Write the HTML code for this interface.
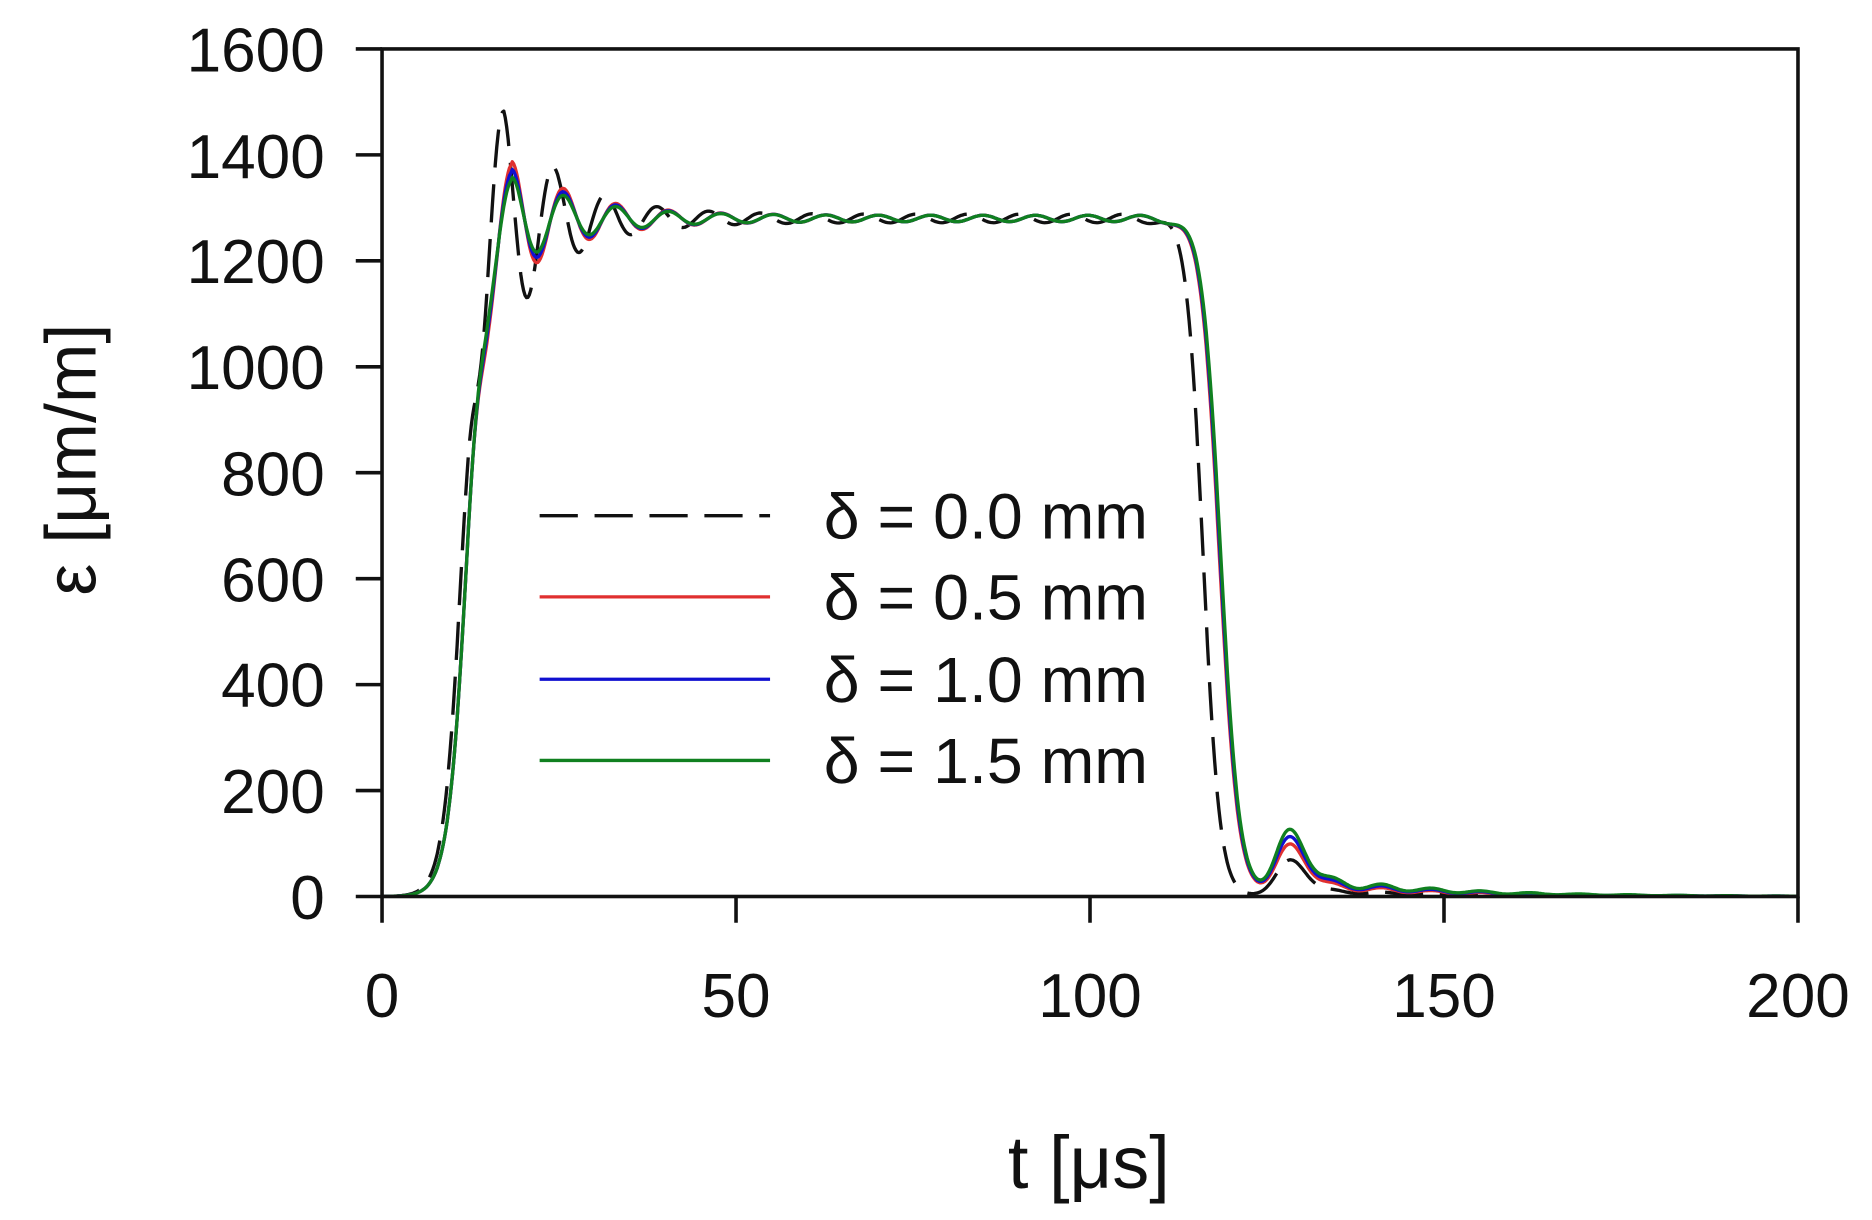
<!DOCTYPE html>
<html><head><meta charset="utf-8"><style>
html,body{margin:0;padding:0;background:#fff;}
svg{display:block;}
text{font-family:"Liberation Sans",Arial,sans-serif;fill:#111;}
</style></head><body>
<svg id="s" width="1872" height="1220" viewBox="0 0 1568 1022" preserveAspectRatio="none">
<rect x="0" y="0" width="1568" height="1022" fill="#fff"/>
<g id="curves" fill="none" stroke-linejoin="round"></g>
<g stroke="#111" stroke-width="3" fill="none">
<rect x="320" y="41" width="1186" height="710"/>
<path d="M298 41H320M298 129.75H320M298 218.5H320M298 307.25H320M298 396H320M298 484.75H320M298 573.5H320M298 662.25H320M298 751H320"/>
<path d="M320 751V773M616.5 751V773M913 751V773M1209.5 751V773M1506 751V773"/>
</g>
<g font-size="52" text-anchor="end">
<text x="272" y="60">1600</text><text x="272" y="149">1400</text><text x="272" y="237">1200</text>
<text x="272" y="326">1000</text><text x="272" y="415">800</text><text x="272" y="504">600</text>
<text x="272" y="592">400</text><text x="272" y="681">200</text><text x="272" y="770">0</text>
</g>
<g font-size="52" text-anchor="middle">
<text x="320" y="852">0</text><text x="616.5" y="852">50</text><text x="913" y="852">100</text>
<text x="1209.5" y="852">150</text><text x="1506" y="852">200</text>
</g>
<text x="912" y="995" font-size="62" text-anchor="middle">t [μs]</text>
<text transform="translate(80,385) rotate(-90)" font-size="60" text-anchor="middle">ε [μm/m]</text>
<g stroke-width="2.8">
<line x1="452" y1="432" x2="645" y2="432" stroke="#111" stroke-dasharray="32,14"/>
<line x1="452" y1="500" x2="645" y2="500" stroke="#e03030"/>
<line x1="452" y1="569" x2="645" y2="569" stroke="#1010d0"/>
<line x1="452" y1="637" x2="645" y2="637" stroke="#108020"/>
</g>
<g font-size="54">
<text x="690" y="451">δ = 0.0 mm</text><text x="690" y="519">δ = 0.5 mm</text>
<text x="690" y="588">δ = 1.0 mm</text><text x="690" y="656">δ = 1.5 mm</text>
</g>
</svg>
<script>
function X(t){return 320+t*5.93;}
function Y(e){return 751-e*0.44375;}
function S(t,c,w){return 0.5*(1+Math.tanh((t-c)/w));}
function curve(o){
  var d="";
  for(var t=0;t<=200;t+=0.2){
    var r=S(t,o.rc,o.rw), f=1-S(t,o.fc,o.fw);
    var osc=0;
    if(t>10){var A=o.A*Math.exp(-(t-o.p)/o.tau)+o.res; if(t<o.p)A=o.A; osc=A*Math.cos(2*Math.PI*(t-o.p)/o.P)*S(t,13,1.5);}
    var e=(1280+osc)*r*f;
    e+=o.b*Math.exp(-Math.pow((t-128.5)/3,2));
    e+=o.tail*S(t,126,2)*Math.exp(-(t-126)/18)*(1+0.3*Math.sin(t*0.9));
    if(e<0)e=0;
    d+=(d?"L":"M")+X(t).toFixed(1)+" "+Y(e).toFixed(1);
  }
  return d;
}
var defs=[
 {c:"#111",dash:"32,14",rc:11.3,rw:2.6,p:17,A:220,tau:8,res:8,P:7.3,fc:116,fw:2.3,b:55,tail:15},
 {c:"#e03030",rc:12,rw:2.7,p:18.3,A:115,tau:9,res:6,P:7.4,fc:118.3,fw:2.6,b:70,tail:30},
 {c:"#1010d0",rc:12,rw:2.7,p:18.3,A:100,tau:9,res:6,P:7.4,fc:118.4,fw:2.6,b:78,tail:36},
 {c:"#108020",rc:12,rw:2.7,p:18.3,A:85,tau:9,res:6,P:7.4,fc:118.5,fw:2.6,b:86,tail:42}
];
var g=document.getElementById("curves");
defs.forEach(function(o){
  var p=document.createElementNS("http://www.w3.org/2000/svg","path");
  p.setAttribute("d",curve(o));p.setAttribute("stroke",o.c);p.setAttribute("stroke-width","2.8");
  if(o.dash)p.setAttribute("stroke-dasharray",o.dash);
  g.appendChild(p);
});
</script>
</body></html>
